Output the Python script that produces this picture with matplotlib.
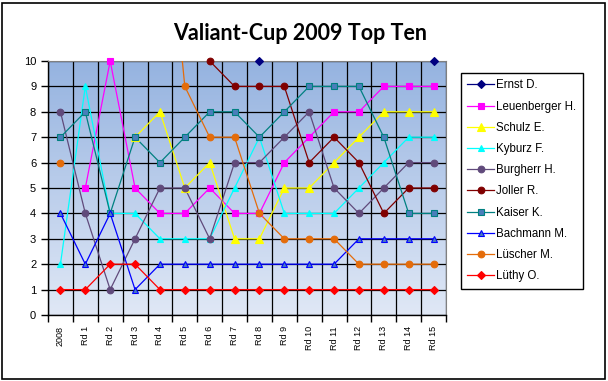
import numpy as np
import matplotlib
matplotlib.use("Agg")
import matplotlib.pyplot as plt
from matplotlib.lines import Line2D
from matplotlib.patches import Rectangle

nan = np.nan

rounds = ["2008"] + [f"Rd {i}" for i in range(1, 16)]

ernst = [nan, nan, nan, nan, nan, nan, nan, nan, 10, nan, nan, nan, nan, nan, nan, 10]
leuenberger = [nan, 5, 10, 5, 4, 4, 5, 4, 4, 6, 7, 8, 8, 9, 9, 9]
schulz = [nan, nan, nan, 7, 8, 5, 6, 3, 3, 5, 5, 6, 7, 8, 8, 8]
kyburz = [2, 9, 4, 4, 3, 3, 3, 5, 7, 4, 4, 4, 5, 6, 7, 7]
burgherr = [8, 4, 1, 3, 5, 5, 3, 6, 6, 7, 8, 5, 4, 5, 6, 6]
joller = [nan, nan, nan, nan, nan, nan, 10, 9, 9, 9, 6, 7, 6, 4, 5, 5]
kaiser = [7, 8, 4, 7, 6, 7, 8, 8, 7, 8, 9, 9, 9, 7, 4, 4]
bachmann = [4, 2, 4, 1, 2, 2, 2, 2, 2, 2, 2, 2, 3, 3, 3, 3]
luescher = [6, nan, nan, nan, 19, 9, 7, 7, 4, 3, 3, 3, 2, 2, 2, 2]
luethy = [1, 1, 2, 2, 1, 1, 1, 1, 1, 1, 1, 1, 1, 1, 1, 1]

names = ["Ernst D.", "Leuenberger H.", "Schulz E.", "Kyburz F.", "Burgherr H.",
         "Joller R.", "Kaiser K.", "Bachmann M.", "Lüscher M.", "Lüthy O."]
series = [ernst, leuenberger, schulz, kyburz, burgherr,
          joller, kaiser, bachmann, luescher, luethy]

# line colour, marker, marker size, marker face, marker edge
styles = [
    ("#000080", "D", 4.5, "#000080", "#000080"),
    ("#FF00FF", "s", 5, "#FF00FF", "#FF00FF"),
    ("#FFFF00", "^", 6, "#FFFF00", "#FFFF00"),
    ("#00FFFF", "^", 5, "#00FFFF", "#00FFFF"),
    ("#604A7B", "o", 4.8, "#604A7B", "#604A7B"),
    ("#800000", "o", 4.8, "#800000", "#800000"),
    ("#008080", "s", 4.6, "#4A7EBB", "#008080"),
    ("#0000FF", "^", 4.3, "#4A7EBB", "#0000FF"),
    ("#E46C0A", "o", 4.8, "#E46C0A", "#E46C0A"),
    ("#FF0000", "D", 3.8, "#FF0000", "#FF0000"),
]

plt.rcParams['font.family'] = ['Liberation Sans', 'DejaVu Sans']

fig = plt.figure(figsize=(6.08, 3.81), dpi=100)
fig.patches.append(Rectangle((2 / 608, 2 / 381), 603 / 608, 376 / 381,
                             transform=fig.transFigure, fill=False,
                             edgecolor="black", lw=1.2))

ax = fig.add_axes([48 / 608, 66 / 381, 398 / 608, 254 / 381])
x = np.arange(len(rounds))

# gradient background
grad = np.linspace(0, 1, 256).reshape(-1, 1)
top = np.array([149, 179, 224]) / 255
bot = np.array([224, 232, 246]) / 255
img = bot + (top - bot) * grad
ax.imshow(img[:, None, :].repeat(2, axis=1), extent=[-0.5, 15.5, 0, 10],
          origin="lower", aspect="auto", zorder=0)

ax.set_xlim(-0.5, 15.5)
ax.set_ylim(0, 10)

handles = []
for vals, name, (c, m, ms, fc, ec) in zip(series, names, styles):
    y = np.array(vals, dtype=float)
    ax.plot(x, y, color=c, lw=0.9, zorder=3)
    ax.plot(x, y, ls="none", marker=m, ms=ms, mfc=fc, mec=ec, mew=0.8,
            clip_on=False, zorder=4)
    handles.append(Line2D([], [], color=c, lw=0.9, marker=m, ms=ms,
                          mfc=fc, mec=ec, mew=0.8))

ax.set_yticks(range(0, 11))
ax.set_xticks(x)
ax.set_xticklabels(rounds, rotation=90, fontsize=6.5, va="top")
ax.set_xticks(np.arange(-0.5, 16, 1), minor=True)
ax.tick_params(axis="x", which="major", length=0, pad=8)
ax.tick_params(axis="x", which="minor", length=5, width=1, direction="out")
ax.tick_params(axis="y", length=5, width=1, direction="out", labelsize=8)
ax.grid(True, which="minor", axis="x", color="black", lw=0.9, zorder=1)
ax.grid(True, which="major", axis="y", color="black", lw=0.9, zorder=1)
ax.set_axisbelow(True)
for s in ["top", "right"]:
    ax.spines[s].set_color("#808080")
for s in ["left", "bottom"]:
    ax.spines[s].set_color("black")
    ax.spines[s].set_linewidth(1)

fig.text(300 / 608, 1 - 33 / 381, "Valiant-Cup 2009 Top Ten",
         ha="center", va="center", fontsize=15.5, fontweight="bold",
         family="Lato")

leg = fig.legend(handles, names, loc="upper left",
                 bbox_to_anchor=(461 / 608, 1 - 73 / 381),
                 fontsize=8.3, labelspacing=0.8, handlelength=2.3,
                 handletextpad=0.2, borderpad=0.55, borderaxespad=0,
                 fancybox=False, framealpha=1, edgecolor="black")
leg.get_frame().set_linewidth(1)

fig.savefig("out.png", dpi=100)
